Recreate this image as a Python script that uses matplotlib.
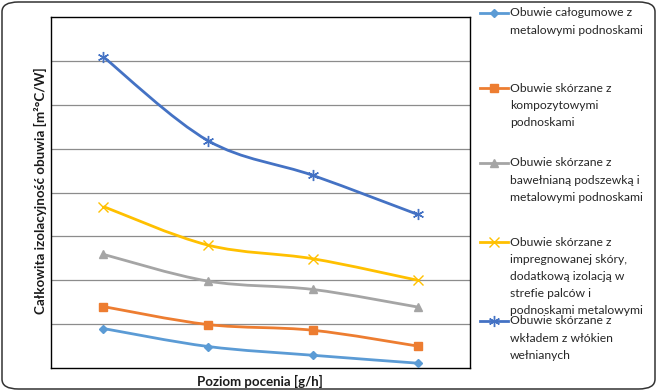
import matplotlib
matplotlib.use("Agg")
import matplotlib.pyplot as plt
from matplotlib.path import Path
from matplotlib.patches import PathPatch, FancyBboxPatch
from matplotlib.lines import Line2D

plt.rcParams["font.family"] = ["Lato", "DejaVu Sans"]

# data (no tick labels in the original, grid units)
levels = ["1", "2", "3", "4"]
rubber_metal = [0.90, 0.49, 0.29, 0.11]
leather_composite = [1.40, 0.99, 0.86, 0.50]
leather_cotton = [2.59, 1.98, 1.79, 1.39]
leather_impregnated = [3.68, 2.80, 2.49, 2.00]
leather_wool = [7.09, 5.18, 4.39, 3.50]

labels = [
    "Obuwie całogumowe z\nmetalowymi podnoskami",
    "Obuwie skórzane z\nkompozytowymi\npodnoskami",
    "Obuwie skórzane z\nbawełnianą podszewką i\nmetalowymi podnoskami",
    "Obuwie skórzane z\nimpregnowanej skóry,\ndodatkową izolacją w\nstrefie palców i\npodnoskami metalowymi",
    "Obuwie skórzane z\nwkładem z włókien\nwełnianych",
]
series = [rubber_metal, leather_composite, leather_cotton, leather_impregnated, leather_wool]
colors = ["#5B9BD5", "#ED7D31", "#A5A5A5", "#FFC000", "#4472C4"]
markers = ["D", "s", "^", "x", (6, 2, 0)]
msizes = [4, 6, 6, 7, 8]


def smooth_path(xs, ys):
    # Excel-like smoothed line: cubic bezier segments through the points
    pts = list(zip(xs, ys))
    verts = [pts[0]]
    codes = [Path.MOVETO]
    n = len(pts)
    for i in range(n - 1):
        p0 = pts[i - 1] if i > 0 else pts[i]
        p1 = pts[i]
        p2 = pts[i + 1]
        p3 = pts[i + 2] if i + 2 < n else pts[i + 1]
        c1 = (p1[0] + (p2[0] - p0[0]) / 6, p1[1] + (p2[1] - p0[1]) / 6)
        c2 = (p2[0] - (p3[0] - p1[0]) / 6, p2[1] - (p3[1] - p1[1]) / 6)
        verts += [c1, c2, p2]
        codes += [Path.CURVE4] * 3
    return Path(verts, codes)


fig = plt.figure(figsize=(6.57, 3.91), dpi=100)
W, H = 657, 391

# rounded outer frame
fig.patches.append(FancyBboxPatch((2 / W, 2 / H), 653 / W, 387 / H,
                                  boxstyle="round,pad=0,rounding_size=0.025",
                                  transform=fig.transFigure, fill=False,
                                  edgecolor="#333333", linewidth=1.1))

ax = fig.add_axes([51 / W, 1 - 368 / H, 419 / W, 351 / H])
x = list(range(len(levels)))
for vals, c, m, ms in zip(series, colors, markers, msizes):
    ax.add_patch(PathPatch(smooth_path(x, vals), fill=False, edgecolor=c, linewidth=2, zorder=3))
    ax.plot(x, vals, linestyle="none", marker=m, markersize=ms, color=c,
            markeredgecolor=c, markeredgewidth=1, zorder=4)

ax.set_xlim(-0.5, len(levels) - 0.5)
ax.set_ylim(0, 8)
ax.set_yticks(range(1, 8))
ax.set_xticks([])
ax.tick_params(axis="y", length=0, labelleft=False)
ax.grid(axis="y", color="#8c8c8c", linewidth=0.9)
ax.set_axisbelow(True)
for s in ax.spines.values():
    s.set_color("black")
    s.set_linewidth(1.0)

fig.text(260 / W, 1 - 381 / H, "Poziom pocenia [g/h]", ha="center", va="center",
         fontsize=9.5, fontweight="bold", color="#1a1a1a")
fig.text(40 / W, 1 - 191 / H, "Całkowita izolacyjność obuwia [m²°C/W]", ha="center", va="center",
         rotation=90, fontsize=9.6, fontweight="bold", color="#1a1a1a")

# legend on the right, entries at a fixed pitch like in Excel
entry_top = [13, 88, 163, 242, 321]
for ytop, lab, c, m, ms in zip(entry_top, labels, colors, markers, msizes):
    yf = 1 - ytop / H
    fig.add_artist(Line2D([480 / W, 508 / W], [yf, yf], transform=fig.transFigure,
                          color=c, linewidth=2))
    fig.add_artist(Line2D([494 / W], [yf], transform=fig.transFigure, color=c,
                          marker=m, markersize=ms, markeredgecolor=c, markeredgewidth=1))
    for k, line in enumerate(lab.split("\n")):
        fig.text(510 / W, 1 - (ytop + 17.2 * k) / H, line, ha="left", va="center",
                 fontsize=8.7, color="#262626")

fig.savefig("out.png", dpi=100)
